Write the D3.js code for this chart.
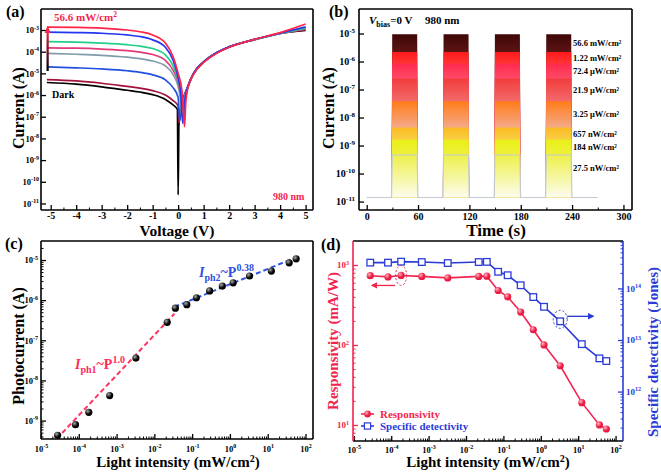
<!DOCTYPE html>
<html>
<head>
<meta charset="utf-8">
<script src="https://cdn.jsdelivr.net/npm/d3@7"></script>
<style>
  body { margin: 0; background: #fff; }
  text { font-family: "Liberation Serif", "Times New Roman", serif; font-weight: bold; }
</style>
</head>
<body>
<div id="fig"></div>
<script>
// ---------- data ----------
// (a) I-V curves under 980 nm light, [voltage V, current A]
var ivRed = [[-5.15,1.35e-3],[-4,1.32e-3],[-3,1.23e-3],[-2,1.0e-3],[-1.5,8.3e-4],[-1,5.9e-4],[-0.5,2.5e-4],[-0.2,5.9e-5],[0,1.0e-5],[0.15,1.6e-6],[0.25,3.5e-8],[0.3,5.0e-7],[0.4,2.5e-6],[0.6,8.9e-6],[1,3.2e-5],[1.5,8.3e-5],[2,1.6e-4],[3,3.7e-4],[4,7.6e-4],[5,1.9e-3]];
var ivBlue = [[-5.15,7.9e-4],[-4,7.6e-4],[-3,7.1e-4],[-2,5.9e-4],[-1.5,5.0e-4],[-1,3.5e-4],[-0.5,1.6e-4],[-0.2,4.0e-5],[0,6.3e-6],[0.1,1.26e-6],[0.18,5.0e-8],[0.25,5.0e-7],[0.4,2.8e-6],[0.6,1.0e-5],[1,3.4e-5],[1.5,8.9e-5],[2,1.66e-4],[3,3.7e-4],[4,7.1e-4],[5,1.4e-3]];
var ivGreen = [[-5.15,2.9e-4],[-4,2.75e-4],[-3,2.5e-4],[-2,2.1e-4],[-1.5,1.8e-4],[-1,1.4e-4],[-0.5,7.1e-5],[-0.2,2.2e-5],[0,5.0e-6],[0.1,1.26e-6],[0.2,6.3e-8],[0.27,6.3e-7],[0.4,2.8e-6],[0.6,9.5e-6],[1,3.3e-5],[1.5,8.7e-5],[2,1.66e-4],[3,3.6e-4],[4,6.9e-4],[5,1.2e-3]];
var ivPink = [[-5.15,1.5e-4],[-4,1.45e-4],[-3,1.32e-4],[-2,1.12e-4],[-1.5,9.5e-5],[-1,7.4e-5],[-0.5,4.0e-5],[-0.2,1.4e-5],[0,4.0e-6],[0.1,1.0e-6],[0.2,1.0e-7],[0.27,6.3e-7],[0.4,2.8e-6],[0.6,9.5e-6],[1,3.3e-5],[1.5,8.7e-5],[2,1.66e-4],[3,3.6e-4],[4,6.9e-4],[5,1.12e-3]];
var ivGrey = [[-5.15,8.3e-5],[-4,7.6e-5],[-3,6.8e-5],[-2,5.6e-5],[-1.5,4.8e-5],[-1,3.7e-5],[-0.5,2.2e-5],[-0.2,8.9e-6],[0,2.5e-6],[0.08,7.9e-7],[0.15,1.0e-7],[0.22,5.0e-7],[0.4,2.8e-6],[0.6,9.5e-6],[1,3.3e-5],[1.5,8.7e-5],[2,1.66e-4],[3,3.6e-4],[4,6.9e-4],[5,1.12e-3]];
var ivBlue2 = [[-5.15,2.0e-5],[-4,1.8e-5],[-3,1.6e-5],[-2,1.32e-5],[-1.5,1.12e-5],[-1,8.5e-6],[-0.5,5.0e-6],[-0.2,2.2e-6],[0,7.9e-7],[0.06,6.3e-8],[0.15,4.0e-7],[0.25,1.0e-6],[0.4,2.8e-6],[0.6,9.5e-6],[1,3.4e-5],[1.5,8.9e-5],[2,1.66e-4],[3,3.7e-4],[4,7.1e-4],[5,1.26e-3]];
var ivDarkRed = [[-5.15,5.2e-6],[-4,4.5e-6],[-3,3.5e-6],[-2,2.5e-6],[-1.5,2.1e-6],[-1,1.6e-6],[-0.5,1.0e-6],[-0.2,5.6e-7],[0,3.2e-7],[0.03,5.0e-8],[0.1,2.5e-7],[0.25,1.0e-6],[0.4,2.8e-6],[0.6,9.5e-6],[1,3.3e-5],[1.5,8.7e-5],[2,1.66e-4],[3,3.6e-4],[4,6.9e-4],[5,1.0e-3]];
var ivDark = [[-5.15,3.8e-6],[-4,3.2e-6],[-3,2.4e-6],[-2,1.66e-6],[-1.5,1.38e-6],[-1,1.05e-6],[-0.5,6.3e-7],[-0.2,3.5e-7],[-0.03,2.2e-7],[0,2.5e-11],[0.03,4.0e-8],[0.1,2.5e-7],[0.25,1.0e-6],[0.4,2.8e-6],[0.6,9.5e-6],[1,3.3e-5],[1.5,8.7e-5],[2,1.66e-4],[3,3.6e-4],[4,6.9e-4],[5,9.5e-4]];

// (b) on/off response at 0 V
var pulseOn = [29, 89, 149, 209];
var pulseOff = [59, 119, 179, 239];
var traceEnd = 270;
var darkLevel = 1.4e-11;
var plateau = [9.5e-6, 2.2e-6, 8.5e-7, 2.5e-7, 3.8e-8, 4.4e-9, 1.6e-9, 4.6e-10];
var powerLabels = ["56.6 mW/cm²", "1.22 mW/cm²", "72.4 μW/cm²", "21.9 μW/cm²", "3.25 μW/cm²", "657 nW/cm²", "184 nW/cm²", "27.5 nW/cm²"];

// (c), (d) vs light intensity (mW/cm2)
var intensity = [2.75e-5, 8.2e-5, 1.84e-4, 6.57e-4, 3.25e-3, 2.19e-2, 3.6e-2, 7.24e-2, 0.13, 0.29, 0.63, 1.22, 3.3, 12.5, 37, 56.6];
var photocurrent = [4.3e-10, 7.9e-10, 1.6e-9, 4.2e-9, 3.6e-8, 2.8e-7, 6.3e-7, 7.7e-7, 1.15e-6, 1.7e-6, 2.25e-6, 2.7e-6, 4.0e-6, 5.3e-6, 8.5e-6, 1.07e-5];
var fitLow = [[2.6e-5, 3.5e-10], [3.4e-2, 4.6e-7]];
var fitHigh = [[3.4e-2, 6.8e-7], [40, 1.02e-5]];
var responsivity = [735, 710, 740, 720, 690, 720, 725, 480, 400, 258, 155, 100, 55, 19, 10, 8.9];
var detectivity = [3.16e14, 3.16e14, 3.3e14, 3.24e14, 3.1e14, 3.24e14, 3.27e14, 2.1e14, 1.8e14, 1.15e14, 6.8e13, 4.4e13, 2.3e13, 8.3e12, 4.4e12, 3.9e12];

// ---------- styles ----------
var RED = "#f2254f", BLUE = "#2b3bd8";
var ivColors = ["#000000", "#a3123a", "#2250e0", "#7f9cab", "#e23a78", "#22cf86", "#2436f0", "#ff2448"];
var bandTop = ["#3e0707", "#ff1a1a", "#ff2a4c", "#f23c3c", "#ff7c18", "#f9bb22", "#e9f014", "#eef04a"];
var bandBot = ["#5c1414", "#ff3434", "#ff4a68", "#f26a6a", "#f4aa8a", "#f9cf45", "#eef03e", "#fcfcee"];

var svg = d3.select("#fig").append("svg").attr("width", 661).attr("height", 472);
var defs = svg.append("defs");

function powLabel(t, d, base, sup) {
  var e = Math.round(Math.log10(d));
  t.text("10").attr("font-size", base);
  t.append("tspan").attr("dy", -base * 0.42).attr("font-size", sup).text(e);
}
function logTicks(scale, minor) {
  var dom = scale.domain(), out = [];
  for (var k = Math.floor(Math.log10(dom[0])); k <= Math.ceil(Math.log10(dom[1])); k++) {
    for (var m = (minor ? 2 : 1); m <= (minor ? 9 : 1); m++) {
      var v = m * Math.pow(10, k);
      if (v >= dom[0] * 0.999 && v <= dom[1] * 1.001) out.push(v);
    }
  }
  return out;
}
function addAxis(axisFn, scale, tr, majors, minors, color, fs, pad, labeler) {
  var g = svg.append("g").attr("transform", tr).attr("font-family", null).attr("font-size", fs);
  g.call(axisFn(scale).tickValues(majors).tickSizeInner(-5).tickSizeOuter(0).tickPadding(pad));
  g.select(".domain").remove();
  g.selectAll(".tick line").attr("stroke", color).attr("stroke-width", 1.3);
  g.selectAll(".tick text").attr("fill", color).each(function(d) { labeler(d3.select(this), d); });
  if (minors) {
    var m = svg.append("g").attr("transform", tr);
    m.call(axisFn(scale).tickValues(minors).tickSizeInner(-2.5).tickSizeOuter(0).tickFormat(""));
    m.select(".domain").remove();
    m.selectAll(".tick line").attr("stroke", color).attr("stroke-width", 1);
  }
}
function frame(p, left, right) {
  var g = svg.append("g").attr("fill", "none").attr("stroke-width", 1.6);
  g.append("line").attr("x1", p.l).attr("x2", p.r).attr("y1", p.t).attr("y2", p.t).attr("stroke", "#000");
  g.append("line").attr("x1", p.l).attr("x2", p.r).attr("y1", p.b).attr("y2", p.b).attr("stroke", "#000");
  g.append("line").attr("x1", p.l).attr("x2", p.l).attr("y1", p.t).attr("y2", p.b).attr("stroke", left || "#000");
  g.append("line").attr("x1", p.r).attr("x2", p.r).attr("y1", p.t).attr("y2", p.b).attr("stroke", right || "#000");
}
function clip(id, p) {
  defs.append("clipPath").attr("id", id).append("rect")
    .attr("x", p.l).attr("y", p.t).attr("width", p.r - p.l).attr("height", p.b - p.t);
}
function vtitle(x, y, txt, size, color) {
  return svg.append("text").attr("transform", "translate(" + x + "," + y + ") rotate(-90)")
    .attr("text-anchor", "middle").attr("font-size", size).attr("fill", color || "#000").text(txt);
}
function htitle(x, y, txt, size) {
  return svg.append("text").attr("x", x).attr("y", y).attr("text-anchor", "middle").attr("font-size", size).text(txt);
}

// shaded sphere markers
var ball = defs.append("radialGradient").attr("id", "ball").attr("cx", "35%").attr("cy", "32%").attr("r", "65%");
ball.append("stop").attr("offset", "0%").attr("stop-color", "#a8a8a8");
ball.append("stop").attr("offset", "70%").attr("stop-color", "#000");
var rball = defs.append("radialGradient").attr("id", "rball").attr("cx", "35%").attr("cy", "32%").attr("r", "65%");
rball.append("stop").attr("offset", "0%").attr("stop-color", "#ffb0bc");
rball.append("stop").attr("offset", "70%").attr("stop-color", "#ea1a42");

function arrowMarker(id, color) {
  defs.append("marker").attr("id", id).attr("viewBox", "0 0 10 10").attr("refX", 8).attr("refY", 5)
    .attr("markerWidth", 5).attr("markerHeight", 5).attr("orient", "auto")
    .append("path").attr("d", "M0,0 L10,5 L0,10 z").attr("fill", color);
}
arrowMarker("arrR", RED);
arrowMarker("arrB", BLUE);

// ================= (a) =================
var pa = {l: 41, r: 313, t: 9, b: 210};
var xa = d3.scaleLinear().domain([-5.38, 5.29]).range([pa.l, pa.r]);
var ya = d3.scaleLog().domain([5e-12, 9.3e-3]).range([pa.b, pa.t]);
clip("clipA", pa);

var lineA = d3.line().x(d => xa(d[0])).y(d => ya(d[1])).curve(d3.curveMonotoneX);
var ivSeries = [ivDark, ivDarkRed, ivBlue2, ivGrey, ivPink, ivGreen, ivBlue, ivRed];
svg.append("g").attr("clip-path", "url(#clipA)").selectAll("path").data(ivSeries).enter()
  .append("path").attr("d", lineA).attr("fill", "none")
  .attr("stroke", (d, i) => ivColors[i]).attr("stroke-width", 1.7);

addAxis(d3.axisBottom, xa, "translate(0," + pa.b + ")", d3.range(-5, 6), d3.range(-4.5, 5, 1),
  "#000", 9, 2, function(t, d) { t.text(d); });
addAxis(d3.axisLeft, ya, "translate(" + pa.l + ",0)", logTicks(ya, false), null, "#000", 8.5, 2,
  function(t, d) { powLabel(t, d, 8.5, 6); });
frame(pa);

// intensity arrow
var ag = defs.append("linearGradient").attr("id", "arrGrad").attr("gradientUnits", "userSpaceOnUse")
  .attr("x1", 0).attr("x2", 0).attr("y1", ya(1.3e-5)).attr("y2", ya(1.25e-3));
ag.append("stop").attr("offset", "0%").attr("stop-color", "#000");
ag.append("stop").attr("offset", "100%").attr("stop-color", "#ff2448");
svg.append("line").attr("x1", xa(-5.12)).attr("x2", xa(-5.12) + 0.01).attr("y1", ya(1.3e-5)).attr("y2", ya(1.25e-3))
  .attr("stroke", "url(#arrGrad)").attr("stroke-width", 2.2);
svg.append("path").attr("d", "M" + (xa(-5.12) - 3) + "," + (ya(1.25e-3) + 5) + " L" + xa(-5.12) + "," + (ya(1.25e-3) - 2) + " L" + (xa(-5.12) + 3) + "," + (ya(1.25e-3) + 5) + "z")
  .attr("fill", "#ff2448");

var t56 = svg.append("text").attr("x", 54).attr("y", 21).attr("font-size", 11).attr("fill", RED).text("56.6 mW/cm");
t56.append("tspan").attr("dy", -4).attr("font-size", 7.5).text("2");
svg.append("text").attr("x", 52).attr("y", 98).attr("font-size", 10).text("Dark");
svg.append("text").attr("x", 273).attr("y", 200).attr("font-size", 10).attr("fill", RED).text("980 nm");

vtitle(24, 108, "Current (A)", 16);
htitle(177, 235.5, "Voltage (V)", 15.5);
svg.append("text").attr("x", 6).attr("y", 17).attr("font-size", 16).text("(a)");

// ================= (b) =================
var pb = {l: 359, r: 632, t: 9, b: 210};
var xb = d3.scaleLinear().domain([-9, 310]).range([pb.l, pb.r]);
var yb = d3.scaleLog().domain([5e-12, 7.5e-5]).range([pb.b, pb.t]);
clip("clipB", pb);

function trace(level) {
  var pts = [[0, darkLevel]];
  pulseOn.forEach(function(t, i) {
    pts.push([t, darkLevel], [t + 0.8, level], [pulseOff[i], level], [pulseOff[i] + 0.8, darkLevel]);
  });
  pts.push([traceEnd, darkLevel]);
  return pts;
}
plateau.forEach(function(lv, i) {
  var gr = defs.append("linearGradient").attr("id", "band" + i).attr("gradientUnits", "userSpaceOnUse")
    .attr("x1", 0).attr("x2", 0).attr("y1", yb(lv)).attr("y2", yb(i < plateau.length - 1 ? plateau[i + 1] : darkLevel));
  gr.append("stop").attr("offset", "0%").attr("stop-color", bandTop[i]);
  gr.append("stop").attr("offset", "100%").attr("stop-color", bandBot[i]);
});
var areaB = d3.area().x(d => xb(d[0])).y0(yb(darkLevel)).y1(d => yb(d[1]));
var gb = svg.append("g").attr("clip-path", "url(#clipB)");
gb.selectAll("path.band").data(plateau).enter().append("path").attr("class", "band")
  .attr("d", d => areaB(trace(d))).attr("fill", (d, i) => "url(#band" + i + ")");
gb.append("path").attr("d", d3.line().x(d => xb(d[0])).y(d => yb(d[1]))(trace(plateau[plateau.length - 1])))
  .attr("fill", "none").attr("stroke", "#c3cad2").attr("stroke-width", 1.2);

addAxis(d3.axisBottom, xb, "translate(0," + pb.b + ")", d3.range(0, 301, 60), d3.range(30, 300, 60), "#000", 10.5, 3,
  function(t, d) { t.text(d); });
addAxis(d3.axisLeft, yb, "translate(" + pb.l + ",0)", logTicks(yb, false), null, "#000", 10, 4,
  function(t, d) { powLabel(t, d, 10, 7); });
frame(pb);

svg.selectAll("text.pw").data(powerLabels).enter().append("text").attr("class", "pw")
  .attr("x", 573)
  .attr("y", function(d, i) {
    var a = yb(plateau[i]), b = i < plateau.length - 1 ? yb(plateau[i + 1]) : yb(plateau[i]) + 26;
    return (a + b) / 2 + 3;
  })
  .attr("font-size", 8.5).text(d => d);

var vb = svg.append("text").attr("x", 369).attr("y", 24).attr("font-size", 11);
vb.append("tspan").attr("font-style", "italic").text("V");
vb.append("tspan").attr("dy", 3).attr("font-size", 8).text("bias");
vb.append("tspan").attr("dy", -3).text("=0 V");
vb.append("tspan").attr("x", 425).text("980 nm");

vtitle(334, 108, "Current (A)", 16);
htitle(496, 236, "Time (s)", 17);
svg.append("text").attr("x", 329).attr("y", 17).attr("font-size", 16).text("(b)");

// ================= (c) =================
var pc = {l: 41, r: 313, t: 241, b: 439};
var xc = d3.scaleLog().domain([1e-5, 158]).range([pc.l, pc.r]);
var yc = d3.scaleLog().domain([3.47e-10, 2.98e-5]).range([pc.b, pc.t]);
clip("clipC", pc);

var lineC = d3.line().x(d => xc(d[0])).y(d => yc(d[1]));
var gc = svg.append("g").attr("clip-path", "url(#clipC)");
gc.append("path").attr("d", lineC(fitLow)).attr("fill", "none").attr("stroke", "#ff3462")
  .attr("stroke-width", 2).attr("stroke-dasharray", "5,3");
gc.append("path").attr("d", lineC(fitHigh)).attr("fill", "none").attr("stroke", "#3152e6")
  .attr("stroke-width", 2).attr("stroke-dasharray", "5,3");
gc.selectAll("circle").data(intensity).enter().append("circle")
  .attr("cx", d => xc(d)).attr("cy", (d, i) => yc(photocurrent[i])).attr("r", 3.6).attr("fill", "url(#ball)");

addAxis(d3.axisBottom, xc, "translate(0," + pc.b + ")", logTicks(xc, false), logTicks(xc, true), "#000", 8.5, 7,
  function(t, d) { powLabel(t, d, 8.5, 6); });
addAxis(d3.axisLeft, yc, "translate(" + pc.l + ",0)", logTicks(yc, false), logTicks(yc, true), "#000", 8.5, 3,
  function(t, d) { powLabel(t, d, 8.5, 6); });
frame(pc);

var f1 = svg.append("text").attr("x", 75).attr("y", 369).attr("font-size", 14).attr("fill", "#ff2a58");
f1.append("tspan").attr("font-style", "italic").text("I");
f1.append("tspan").attr("dy", 4).attr("font-size", 10).text("ph1");
f1.append("tspan").attr("dy", -4).text("~P");
f1.append("tspan").attr("dy", -6).attr("font-size", 10).text("1.0");
var f2 = svg.append("text").attr("x", 199).attr("y", 277).attr("font-size", 14).attr("fill", "#2f4fe0");
f2.append("tspan").attr("font-style", "italic").text("I");
f2.append("tspan").attr("dy", 4).attr("font-size", 10).text("ph2");
f2.append("tspan").attr("dy", -4).text("~P");
f2.append("tspan").attr("dy", -6).attr("font-size", 10).text("0.38");

vtitle(24, 346, "Photocurrent (A)", 16);
var lc = htitle(178, 467, "Light intensity (mW/cm", 15);
lc.append("tspan").attr("dy", -5).attr("font-size", 10).text("2");
lc.append("tspan").attr("dy", 5).text(")");
svg.append("text").attr("x", 5).attr("y", 249).attr("font-size", 16).text("(c)");

// ================= (d) =================
var pd = {l: 353, r: 623, t: 241, b: 441};
var xd = d3.scaleLog().domain([9.5e-6, 158]).range([pd.l, pd.r]);
var ydl = d3.scaleLog().domain([6.3, 1995]).range([pd.b, pd.t]);
var ydr = d3.scaleLog().domain([1.1e11, 8.3e14]).range([pd.b, pd.t]);

var lineR = d3.line().x((d, i) => xd(intensity[i])).y(d => ydl(d));
var lineD = d3.line().x((d, i) => xd(intensity[i])).y(d => ydr(d));
svg.append("path").attr("d", lineD(detectivity)).attr("fill", "none").attr("stroke", BLUE).attr("stroke-width", 1.6);
svg.append("path").attr("d", lineR(responsivity)).attr("fill", "none").attr("stroke", RED).attr("stroke-width", 1.6);
svg.append("g").selectAll("rect").data(detectivity).enter().append("rect")
  .attr("x", (d, i) => xd(intensity[i]) - 3.3).attr("y", d => ydr(d) - 3.3)
  .attr("width", 6.6).attr("height", 6.6).attr("fill", "#fff").attr("stroke", BLUE).attr("stroke-width", 1.3);
svg.append("g").selectAll("circle").data(responsivity).enter().append("circle")
  .attr("cx", (d, i) => xd(intensity[i])).attr("cy", d => ydl(d)).attr("r", 3.6).attr("fill", "url(#rball)");

addAxis(d3.axisBottom, xd, "translate(0," + pd.b + ")", logTicks(xd, false).filter(v => v >= 1e-5), logTicks(xd, true), "#000", 8.5, 6,
  function(t, d) { powLabel(t, d, 8.5, 6); });
addAxis(d3.axisLeft, ydl, "translate(" + pd.l + ",0)", logTicks(ydl, false), logTicks(ydl, true), RED, 9, 4,
  function(t, d) { powLabel(t, d, 9, 6); });
addAxis(d3.axisRight, ydr, "translate(" + pd.r + ",0)", logTicks(ydr, false), logTicks(ydr, true), BLUE, 9, 3,
  function(t, d) { powLabel(t, d, 9, 6); });
frame(pd, RED, BLUE);

// annotations: dashed ellipses and arrows pointing to the axes
var eR = {x: xd(intensity[2]), y: ydl(responsivity[2])};
svg.append("ellipse").attr("cx", eR.x).attr("cy", eR.y).attr("rx", 5.5).attr("ry", 10)
  .attr("fill", "none").attr("stroke", RED).attr("stroke-width", 1).attr("stroke-dasharray", "2,2");
svg.append("line").attr("x1", eR.x - 6).attr("x2", eR.x - 29).attr("y1", eR.y + 10).attr("y2", eR.y + 10)
  .attr("stroke", RED).attr("stroke-width", 1.3).attr("marker-end", "url(#arrR)");
var eB = {x: xd(intensity[12]), y: ydr(detectivity[12])};
svg.append("ellipse").attr("cx", eB.x).attr("cy", eB.y - 2).attr("rx", 7).attr("ry", 9)
  .attr("fill", "none").attr("stroke", BLUE).attr("stroke-width", 1).attr("stroke-dasharray", "2,2");
svg.append("line").attr("x1", eB.x + 7).attr("x2", eB.x + 33).attr("y1", eB.y - 5).attr("y2", eB.y - 5)
  .attr("stroke", BLUE).attr("stroke-width", 1.3).attr("marker-end", "url(#arrB)");

// legend
var lg = svg.append("g");
lg.append("line").attr("x1", 361).attr("x2", 374).attr("y1", 414).attr("y2", 414).attr("stroke", RED).attr("stroke-width", 1.6);
lg.append("circle").attr("cx", 367.5).attr("cy", 414).attr("r", 3.4).attr("fill", "url(#rball)");
lg.append("text").attr("x", 380).attr("y", 418).attr("font-size", 11).attr("fill", RED).text("Responsivity");
lg.append("line").attr("x1", 361).attr("x2", 374).attr("y1", 426).attr("y2", 426).attr("stroke", BLUE).attr("stroke-width", 1.6);
lg.append("rect").attr("x", 364.4).attr("y", 422.9).attr("width", 6.2).attr("height", 6.2).attr("fill", "#fff").attr("stroke", BLUE).attr("stroke-width", 1.2);
lg.append("text").attr("x", 380).attr("y", 430).attr("font-size", 11).attr("fill", BLUE).text("Specific detectivity");

vtitle(338, 341, "Responsivity (mA/W)", 15, RED);
vtitle(658, 352, "Specific detectivity (Jones)", 15, BLUE);
var ld = htitle(488, 467, "Light intensity (mW/cm", 15);
ld.append("tspan").attr("dy", -5).attr("font-size", 10).text("2");
ld.append("tspan").attr("dy", 5).text(")");
svg.append("text").attr("x", 321).attr("y", 250).attr("font-size", 16).text("(d)");
</script>
</body>
</html>
